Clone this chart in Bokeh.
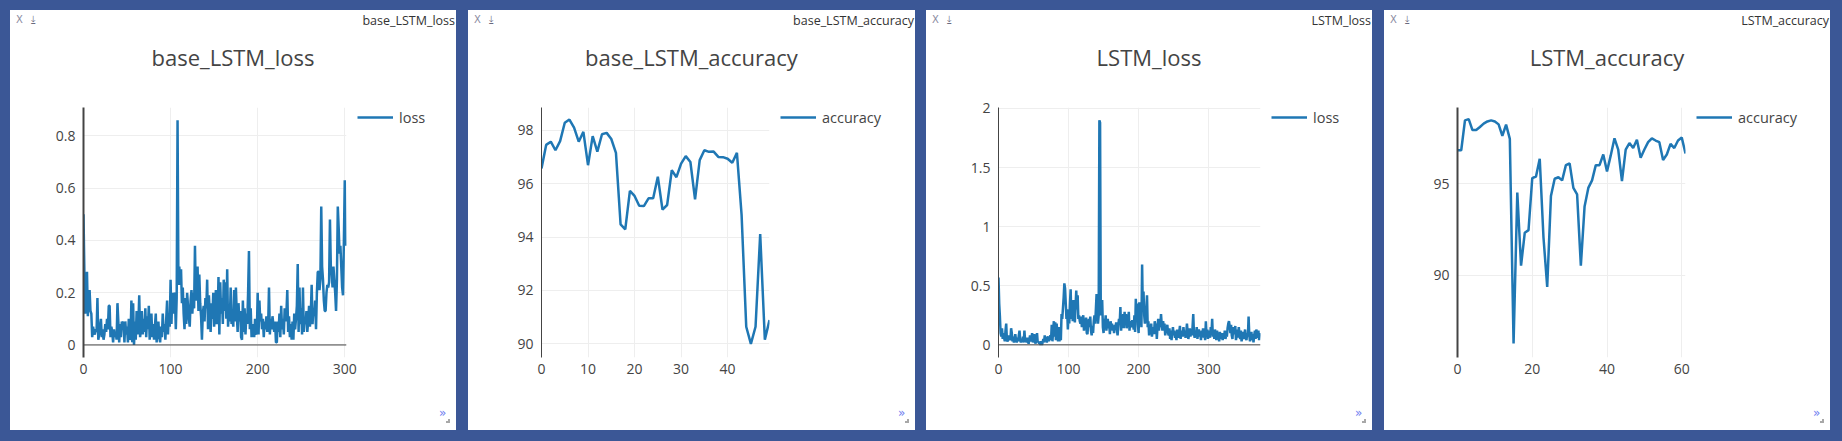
from bokeh.plotting import figure
from bokeh.models import FixedTicker, Span, Range1d, Div, Legend, LegendItem
from bokeh.layouts import row, column
from bokeh.embed import file_html
from bokeh.resources import INLINE

BG = "#3b5796"
LINE = "#1f77b4"
INK = "#444444"
WHITE = {"background-color": "#ffffff"}

# ---------------- data ----------------
BASE_LOSS = [
    0.50, 0.28, 0.12, 0.25, 0.28, 0.11, 0.20, 0.21, 0.13, 0.12,
    0.03, 0.07, 0.05, 0.04, 0.06, 0.05, 0.18, 0.02, 0.04, 0.07,
    0.10, 0.03, 0.06, 0.02, 0.04, 0.08, 0.05, 0.10, 0.06, 0.15,
    0.15, 0.03, 0.07, 0.05, 0.01, 0.06, 0.03, 0.05, 0.02, 0.16,
    0.09, 0.01, 0.08, 0.03, 0.09, 0.06, 0.09, 0.01, 0.09, 0.04,
    0.07, 0.01, 0.10, 0.02, 0.03, 0.17, 0.01, 0.16, 0.00, 0.09,
    0.02, 0.13, 0.04, 0.08, 0.19, 0.03, 0.06, 0.13, 0.04, 0.10,
    0.05, 0.14, 0.03, 0.11, 0.06, 0.15, 0.02, 0.08, 0.12, 0.03,
    0.08, 0.02, 0.07, 0.12, 0.01, 0.06, 0.09, 0.03, 0.01, 0.07,
    0.03, 0.12, 0.05, 0.08, 0.02, 0.10, 0.17, 0.04, 0.12, 0.07,
    0.25, 0.08, 0.20, 0.12, 0.20, 0.19, 0.06, 0.18, 0.86, 0.23,
    0.30, 0.23, 0.29, 0.16, 0.22, 0.12, 0.06, 0.18, 0.08, 0.20,
    0.15, 0.10, 0.07, 0.17, 0.21, 0.12, 0.20, 0.14, 0.38, 0.17,
    0.21, 0.30, 0.13, 0.27, 0.16, 0.11, 0.02, 0.12, 0.15, 0.09,
    0.18, 0.14, 0.25, 0.06, 0.19, 0.12, 0.05, 0.16, 0.10, 0.20,
    0.07, 0.13, 0.21, 0.08, 0.10, 0.26, 0.04, 0.24, 0.12, 0.18,
    0.08, 0.25, 0.13, 0.24, 0.10, 0.29, 0.07, 0.14, 0.09, 0.22,
    0.08, 0.11, 0.07, 0.21, 0.09, 0.22, 0.12, 0.05, 0.16, 0.09,
    0.13, 0.03, 0.02, 0.17, 0.05, 0.14, 0.04, 0.12, 0.08, 0.20,
    0.36, 0.06, 0.14, 0.03, 0.08, 0.05, 0.03, 0.10, 0.05, 0.04,
    0.20, 0.04, 0.17, 0.09, 0.12, 0.06, 0.10, 0.03, 0.09, 0.06,
    0.11, 0.05, 0.07, 0.22, 0.04, 0.10, 0.06, 0.11, 0.08, 0.05,
    0.09, 0.01, 0.01, 0.09, 0.05, 0.12, 0.03, 0.15, 0.06, 0.10,
    0.04, 0.14, 0.09, 0.12, 0.21, 0.05, 0.11, 0.03, 0.08, 0.02,
    0.09, 0.02, 0.12, 0.06, 0.10, 0.15, 0.31, 0.05, 0.22, 0.08,
    0.14, 0.04, 0.22, 0.05, 0.10, 0.08, 0.13, 0.05, 0.09, 0.15,
    0.07, 0.12, 0.23, 0.08, 0.14, 0.11, 0.17, 0.06, 0.20, 0.28,
    0.28, 0.21, 0.25, 0.53, 0.30, 0.25, 0.17, 0.13, 0.13, 0.20,
    0.23, 0.22, 0.24, 0.48, 0.30, 0.27, 0.22, 0.30, 0.25, 0.20,
    0.13, 0.25, 0.53, 0.45, 0.35, 0.38, 0.30, 0.22, 0.19, 0.40,
    0.63, 0.38,
]

BASE_ACC = [
    96.57, 97.45, 97.57, 97.25, 97.59, 98.28, 98.40, 98.10, 97.57, 97.94,
    96.69, 97.78, 97.20, 97.85, 97.90, 97.67, 97.15, 94.47, 94.29, 95.73,
    95.54, 95.17, 95.16, 95.45, 95.45, 96.26, 95.03, 95.20, 96.50, 96.24,
    96.75, 97.03, 96.81, 95.41, 96.88, 97.25, 97.19, 97.20, 97.00, 96.99,
    96.93, 96.78, 97.15, 94.84, 90.64, 90.00, 90.64, 94.11, 90.16, 90.89,
]

LSTM_LOSS = [
    0.57, 0.35, 0.24, 0.10, 0.07, 0.14, 0.05, 0.10, 0.06, 0.03,
    0.12, 0.18, 0.04, 0.03, 0.05, 0.08, 0.06, 0.04, 0.14, 0.10,
    0.03, 0.07, 0.02, 0.05, 0.09, 0.04, 0.02, 0.06, 0.03, 0.08,
    0.12, 0.04, 0.02, 0.05, 0.03, 0.07, 0.02, 0.12, 0.03, 0.05,
    0.02, 0.06, 0.03, 0.01, 0.04, 0.08, 0.03, 0.05, 0.10, 0.02,
    0.04, 0.09, 0.03, 0.01, 0.05, 0.10, 0.02, 0.03, 0.01, 0.02,
    0.00, 0.03, 0.00, 0.02, 0.05, 0.02, 0.08, 0.03, 0.07, 0.02,
    0.06, 0.07, 0.03, 0.06, 0.08, 0.04, 0.17, 0.03, 0.12, 0.20,
    0.07, 0.19, 0.04, 0.18, 0.10, 0.03, 0.15, 0.03, 0.12, 0.04,
    0.26, 0.22, 0.31, 0.40, 0.52, 0.48, 0.35, 0.22, 0.30, 0.13,
    0.25, 0.18, 0.35, 0.47, 0.22, 0.30, 0.20, 0.38, 0.25, 0.19,
    0.33, 0.46, 0.30, 0.42, 0.22, 0.25, 0.20, 0.18, 0.24, 0.15,
    0.22, 0.25, 0.12, 0.20, 0.16, 0.23, 0.10, 0.09, 0.18, 0.22,
    0.15, 0.24, 0.12, 0.08, 0.16, 0.10, 0.20, 0.25, 0.18, 0.30,
    0.43, 0.33, 0.18, 0.25, 1.90, 1.88, 0.25, 0.30, 0.38, 0.15,
    0.10, 0.22, 0.17, 0.25, 0.12, 0.20, 0.22, 0.14, 0.18, 0.09,
    0.20, 0.15, 0.18, 0.12, 0.16, 0.10, 0.17, 0.15, 0.19, 0.13,
    0.08, 0.16, 0.22, 0.18, 0.32, 0.12, 0.20, 0.15, 0.26, 0.14,
    0.28, 0.17, 0.26, 0.14, 0.22, 0.19, 0.28, 0.12, 0.20, 0.16,
    0.15, 0.21, 0.18, 0.13, 0.25, 0.11, 0.39, 0.20, 0.35, 0.17,
    0.10, 0.36, 0.28, 0.30, 0.15, 0.68, 0.30, 0.45, 0.25, 0.18,
    0.22, 0.30, 0.42, 0.15, 0.20, 0.08, 0.15, 0.10, 0.18, 0.07,
    0.12, 0.15, 0.09, 0.20, 0.14, 0.18, 0.05, 0.16, 0.22, 0.12,
    0.19, 0.15, 0.26, 0.17, 0.12, 0.20, 0.14, 0.18, 0.08, 0.15,
    0.12, 0.17, 0.10, 0.08, 0.14, 0.05, 0.12, 0.04, 0.10, 0.15,
    0.08, 0.12, 0.06, 0.10, 0.04, 0.13, 0.09, 0.06, 0.11, 0.16,
    0.05, 0.10, 0.12, 0.07, 0.15, 0.09, 0.12, 0.06, 0.10, 0.18,
    0.11, 0.05, 0.09, 0.14, 0.07, 0.12, 0.08, 0.15, 0.26, 0.10,
    0.06, 0.12, 0.09, 0.15, 0.05, 0.11, 0.13, 0.07, 0.10, 0.04,
    0.12, 0.08, 0.14, 0.06, 0.10, 0.04, 0.20, 0.08, 0.13, 0.05,
    0.10, 0.12, 0.06, 0.15, 0.09, 0.22, 0.07, 0.11, 0.05, 0.13,
    0.08, 0.04, 0.12, 0.06, 0.09, 0.03, 0.11, 0.07, 0.05, 0.10,
    0.04, 0.08, 0.06, 0.12, 0.05, 0.09, 0.07, 0.14, 0.18, 0.20,
    0.16, 0.10, 0.17, 0.08, 0.05, 0.15, 0.12, 0.09, 0.16, 0.04,
    0.08, 0.13, 0.06, 0.15, 0.09, 0.05, 0.12, 0.03, 0.07, 0.11,
    0.05, 0.09, 0.13, 0.06, 0.04, 0.10, 0.07, 0.24, 0.08, 0.03,
    0.06, 0.11, 0.04, 0.09, 0.02, 0.08, 0.12, 0.05, 0.13, 0.10,
    0.06, 0.12, 0.04, 0.08, 0.10,
]

LSTM_ACC = [
    96.82, 96.82, 98.45, 98.52, 97.92, 97.92, 98.09, 98.27, 98.39, 98.45,
    98.39, 98.23, 97.61, 98.22, 97.44, 86.29, 94.52, 90.53, 92.33, 92.47,
    95.30, 95.39, 96.36, 92.08, 89.38, 94.33, 95.27, 95.35, 95.18, 96.01,
    96.10, 94.77, 94.42, 90.53, 93.76, 94.77, 95.18, 96.01, 96.01, 96.59,
    95.67, 96.54, 97.47, 96.86, 95.14, 96.86, 97.21, 96.94, 97.39, 96.41,
    96.86, 97.26, 97.47, 97.35, 97.26, 96.29, 96.59, 97.17, 96.94, 97.35,
    97.51, 96.64,
]

TITLES = ["base_LSTM_loss", "base_LSTM_accuracy", "LSTM_loss", "LSTM_accuracy"]
SERIES = ["loss", "accuracy", "loss", "accuracy"]

P1_XTICKS = [0, 100, 200, 300]
P1_YTICKS = [0, 0.2, 0.4, 0.6, 0.8]
P1_YLABELS = ["0", "0.2", "0.4", "0.6", "0.8"]
P2_XTICKS = [0, 10, 20, 30, 40]
P2_YTICKS = [90, 92, 94, 96, 98]
P2_YLABELS = ["90", "92", "94", "96", "98"]
P3_XTICKS = [0, 100, 200, 300]
P3_YTICKS = [0, 0.5, 1, 1.5, 2]
P3_YLABELS = ["0", "0.5", "1", "1.5", "2"]
P4_XTICKS = [0, 20, 40, 60]
P4_YTICKS = [90, 95]
P4_YLABELS = ["90", "95"]

HEADER_H = 80
FIG_H = 310
FOOTER_H = 30
FRAME_TOP = 10      # frame top inside the figure
FRAME_BOTTOM = 267  # frame bottom inside the figure
RIGHT_PAD = 11      # gap between plot frame and legend
LINE_W = 2.5


def header_div(title, width):
    html = (
        f'<div style="position:relative;width:{width}px;height:{HEADER_H}px;'
        f'background:#ffffff;overflow:hidden;">'
        f'<span style="position:absolute;left:6px;top:2px;line-height:16px;'
        f'font-family:\'DejaVu Sans\';font-size:10px;color:#8a8aa0;">X</span>'
        f'<span style="position:absolute;left:21px;top:2px;line-height:16px;'
        f'font-family:\'DejaVu Sans\';font-size:10px;color:#6a6a80;">\u2913</span>'
        f'<span style="position:absolute;right:1px;top:2px;line-height:18px;'
        f'font-family:\'Open Sans\';font-size:12.5px;color:#333333;white-space:nowrap;">{title}</span>'
        f'<div style="position:absolute;left:0;width:{width}px;top:32px;line-height:30px;'
        f'text-align:center;font-family:\'Open Sans\';font-size:22px;color:{INK};'
        f'white-space:nowrap;">{title}</div>'
        f'</div>'
    )
    return Div(text=html, width=width, height=HEADER_H, margin=0, styles=WHITE)


def footer_div(width):
    html = (
        f'<div style="position:relative;width:{width}px;height:{FOOTER_H}px;'
        f'background:#ffffff;overflow:hidden;">'
        f'<span style="position:absolute;left:{width - 17}px;top:5px;line-height:16px;'
        f'font-family:\'DejaVu Sans\';font-size:12px;color:#6f7cf0;">\u00bb</span>'
        f'<div style="position:absolute;left:{width - 10}px;top:19px;width:4px;height:4px;'
        f'border-right:2px solid #a8a8a8;border-bottom:2px solid #a8a8a8;"></div>'
        f'</div>'
    )
    return Div(text=html, width=width, height=FOOTER_H, margin=0, styles=WHITE)


def make_panel(title, series, ys, xticks, yticks, ylabels, xr, yr,
               width, left, frame_w, axis_w, zero_y, margin):
    main_w = left + frame_w + RIGHT_PAD
    xs = list(range(len(ys)))
    p = figure(width=main_w, height=FIG_H, output_backend="svg",
               toolbar_location=None, x_range=Range1d(*xr), y_range=Range1d(*yr),
               min_border_left=left, min_border_right=RIGHT_PAD,
               min_border_top=FRAME_TOP, min_border_bottom=FIG_H - FRAME_BOTTOM,
               background_fill_color="white", border_fill_color="white",
               margin=0, styles=WHITE)
    p.outline_line_color = None

    p.xaxis.ticker = FixedTicker(ticks=xticks)
    p.yaxis.ticker = FixedTicker(ticks=yticks)
    p.xgrid.ticker = FixedTicker(ticks=xticks)
    p.ygrid.ticker = FixedTicker(ticks=yticks)
    p.yaxis.major_label_overrides = {t: l for t, l in zip(yticks, ylabels)}
    for ax in (p.xaxis[0], p.yaxis[0]):
        ax.major_tick_line_color = None
        ax.minor_tick_line_color = None
        ax.major_label_text_font = "Open Sans"
        ax.major_label_text_font_size = "14px"
        ax.major_label_text_color = INK
    p.xaxis.axis_line_color = None
    p.xaxis.major_label_standoff = 0
    p.yaxis.axis_line_color = INK
    p.yaxis.axis_line_width = axis_w
    p.yaxis.major_label_standoff = 2
    p.grid.grid_line_color = "#eeeeee"
    p.grid.grid_line_width = 1

    if zero_y:
        p.add_layout(Span(location=0, dimension="width", line_color=INK, line_width=1))

    p.line(xs, ys, line_color=LINE, line_width=LINE_W)

    # legend lives in its own small figure to the right of the plot frame;
    # its proxy line uses the same series but lies outside that figure's view
    leg_w = width - main_w
    lf = figure(width=leg_w, height=FIG_H, output_backend="svg", toolbar_location=None,
                x_range=Range1d(-2, -1), y_range=Range1d(-2, -1),
                x_axis_type=None, y_axis_type=None,
                min_border_left=0, min_border_right=0,
                min_border_top=FRAME_TOP + 7, min_border_bottom=0,
                background_fill_color="white", border_fill_color="white",
                margin=0, styles=WHITE)
    lf.outline_line_color = None
    proxy = lf.line(xs, ys, line_color=LINE, line_width=LINE_W)
    leg = Legend(items=[LegendItem(label=series, renderers=[proxy])])
    leg.location = "top_left"
    leg.border_line_color = None
    leg.background_fill_alpha = 0
    leg.padding = 0
    leg.margin = 0
    leg.glyph_width = 36
    leg.glyph_height = 20
    leg.label_height = 20
    leg.label_standoff = 6
    leg.label_text_font = "Open Sans"
    leg.label_text_font_size = "14.5px"
    leg.label_text_color = INK
    lf.add_layout(leg)

    return column(header_div(title, width),
                  row(p, lf, spacing=0, margin=0, styles=WHITE),
                  footer_div(width), spacing=0, margin=margin, styles=WHITE)


p1 = make_panel(TITLES[0], SERIES[0], BASE_LOSS, P1_XTICKS, P1_YTICKS, P1_YLABELS,
                (0, 302), (-0.048, 0.909), 446, 73, 263, 2, True, (10, 6, 11, 10))
p2 = make_panel(TITLES[1], SERIES[1], BASE_ACC, P2_XTICKS, P2_YTICKS, P2_YLABELS,
                (0, 49), (89.49, 98.85), 447, 73, 228, 1, False, (10, 5, 11, 6))
p3 = make_panel(TITLES[2], SERIES[2], LSTM_LOSS, P3_XTICKS, P3_YTICKS, P3_YLABELS,
                (0, 374), (-0.107, 2.008), 446, 72, 262, 1, True, (10, 6, 11, 6))
p4 = make_panel(TITLES[3], SERIES[3], LSTM_ACC, P4_XTICKS, P4_YTICKS, P4_YLABELS,
                (0, 61), (85.53, 99.15), 446, 73, 228, 2, False, (10, 12, 11, 6))

layout = row(p1, p2, p3, p4, spacing=0, styles={"background-color": BG})

open("out.html", "w").write(file_html(layout, INLINE))
